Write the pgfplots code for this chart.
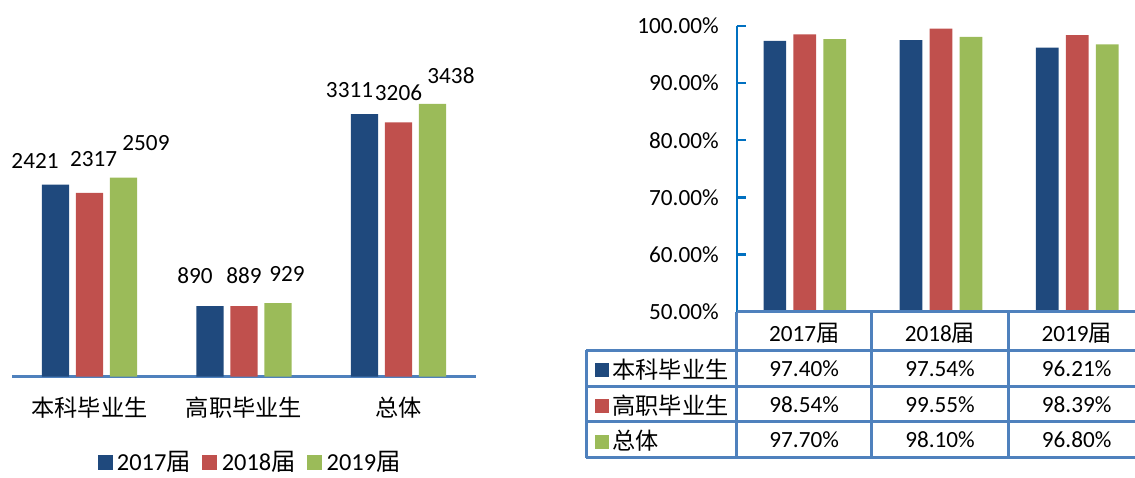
\documentclass[border=0pt]{standalone}
\usepackage{pgfplots}
\pgfplotsset{compat=1.18}
\usepackage{pgfplotstable}
\usepackage{fontspec}
\setmainfont{Carlito}
\newfontfamily\cjk{Noto Sans CJK SC}
\newcommand\fs{\fontsize{11.6pt}{13pt}\selectfont}
\newcommand\fl{\fontsize{12.2pt}{14pt}\selectfont}
\definecolor{cblue}{HTML}{1F497D}
\definecolor{cred}{HTML}{C0504D}
\definecolor{cgreen}{HTML}{9BBB59}
\definecolor{lblue}{HTML}{4F81BD}
\definecolor{ablue}{HTML}{0070C0}
\definecolor{tblue}{HTML}{4F81BD}

% left chart: number of graduates (x = category index, dx/dy = label offset in px)
\pgfplotstableread{
x y dx dy
0 2421 -20.5 24
1 890 -15 30.7
2 3311 -15 24.3
}\tA
\pgfplotstableread{
x y dx dy
0 2317 4.2 34.3
1 889 0 31
2 3206 0 29.7
}\tB
\pgfplotstableread{
x y dx dy
0 2509 22.5 34.7
1 929 9 29.3
2 3438 18.5 28.5
}\tC
% right chart: rates (x = 2017,2018,2019 index)
\pgfplotstableread{
x y
0 97.40
1 97.54
2 96.21
}\rA
\pgfplotstableread{
x y
0 98.54
1 99.55
2 98.39
}\rB
\pgfplotstableread{
x y
0 97.70
1 98.10
2 96.80
}\rC

\begin{document}
\begin{tikzpicture}
% ---------------- left chart
\begin{axis}[
  at={(6.125pt,50.15pt)}, anchor=south west, scale only axis,
  width=231.75pt, height=158.65pt,
  xmin=-0.5, xmax=2.5, ymin=0, ymax=4000,
  hide y axis, axis x line*=bottom,
  x axis line style={draw=lblue, line width=1.6pt},
  xtick={0,1,2}, xticklabels={本科毕业生,高职毕业生,总体},
  major tick length=0pt, xtick style={draw=none},
  xticklabel style={font=\fs\cjk, anchor=center, yshift=-15.4pt},
  ybar, bar width=0.175,
  /pgf/number format/assume math mode=true,
  visualization depends on={\thisrow{dx}\as\dx},
  visualization depends on={\thisrow{dy}\as\dy},
  nodes near coords={\pgfmathprintnumber[1000 sep=]{\pgfplotspointmeta}},
  every node near coord/.append style={font=\fs, anchor=center, xshift=\dx*0.5pt, yshift=\dy*0.5pt, inner sep=0pt},
  clip=false,
  legend style={at={(0.513,-0.271)}, anchor=center, legend columns=3, draw=none, fill=none, font=\fl,
    /tikz/every even column/.append style={column sep=4.8pt},
    /tikz/every odd column/.append style={column sep=1.2pt},
    nodes={inner sep=1pt}},
  legend image code/.code={\fill[#1] (0pt,-3.75pt) rectangle (7.5pt,3.75pt);},
]
\addplot[fill=cblue, draw=none, bar shift=-0.22] table[x=x,y=y] {\tA};
\addplot[fill=cred, draw=none, bar shift=0] table[x=x,y=y] {\tB};
\addplot[fill=cgreen, draw=none, bar shift=0.22] table[x=x,y=y] {\tC};
\legend{2017{\cjk 届},2018{\cjk 届},2019{\cjk 届}}
\end{axis}
% ---------------- right chart
\begin{axis}[
  at={(368.35pt,82.65pt)}, anchor=south west, scale only axis,
  width=199.15pt, height=142.85pt,
  xmin=-0.5, xmax=2.424, ymin=50, ymax=100,
  hide x axis,
  axis y line*=left,
  y axis line style={draw=ablue, line width=1.2pt},
  ytick={50,60,70,80,90,100},
  ytick style={draw=ablue, line width=1.2pt},
  tick align=inside, major tick length=4.5pt,
  /pgf/number format/assume math mode=true,
  yticklabel={\pgfmathprintnumber[fixed,fixed zerofill,precision=2]{\tick}\%},
  yticklabel style={font=\fs, xshift=-5.5pt},
  ybar, bar width=0.1665,
]
\addplot[fill=cblue, draw=none, bar shift=-0.22] table[x=x,y=y] {\rA};
\addplot[fill=cred, draw=none, bar shift=0] table[x=x,y=y] {\rB};
\addplot[fill=cgreen, draw=none, bar shift=0.22] table[x=x,y=y] {\rC};
\end{axis}
% ---------------- data table under the right chart (pixel coordinates)
\begin{scope}[x=0.5pt, y=-0.5pt, yshift=238.5pt]
  \draw[tblue, line width=1.5pt]
    (736.7,311.7) -- (1135,311.7)
    (586,350) -- (1135,350)
    (586,386) -- (1135,386)
    (586,421.7) -- (1135,421.7)
    (586,457.7) -- (1135,457.7)
    (586,350) -- (586,457.7)
    (736.7,311.7) -- (736.7,457.7)
    (871.7,311.7) -- (871.7,457.7)
    (1008.3,311.7) -- (1008.3,457.7);
  \node[font=\fs, anchor=center] at (804.2,333) {2017{\cjk 届}};
  \node[font=\fs, anchor=center] at (940,333) {2018{\cjk 届}};
  \node[font=\fs, anchor=center] at (1076.7,333) {2019{\cjk 届}};
  \fill[cblue] (595,363) rectangle (609,377);
  \fill[cred] (595,399) rectangle (609,413);
  \fill[cgreen] (595,434.5) rectangle (609,448.5);
  \node[font=\fs\cjk, anchor=west, inner sep=0pt] at (612,370) {本科毕业生};
  \node[font=\fs\cjk, anchor=west, inner sep=0pt] at (612,405.5) {高职毕业生};
  \node[font=\fs\cjk, anchor=west, inner sep=0pt] at (612,440.5) {总体};
  \node[font=\fs] at (804.2,369) {97.40\%};
  \node[font=\fs] at (940,369) {97.54\%};
  \node[font=\fs] at (1076.7,369) {96.21\%};
  \node[font=\fs] at (804.2,405) {98.54\%};
  \node[font=\fs] at (940,405) {99.55\%};
  \node[font=\fs] at (1076.7,405) {98.39\%};
  \node[font=\fs] at (804.2,440) {97.70\%};
  \node[font=\fs] at (940,440) {98.10\%};
  \node[font=\fs] at (1076.7,440) {96.80\%};
\end{scope}
\pgfresetboundingbox
\path[use as bounding box] (0,0) rectangle (567.5pt,238.5pt);
\end{tikzpicture}
\end{document}
